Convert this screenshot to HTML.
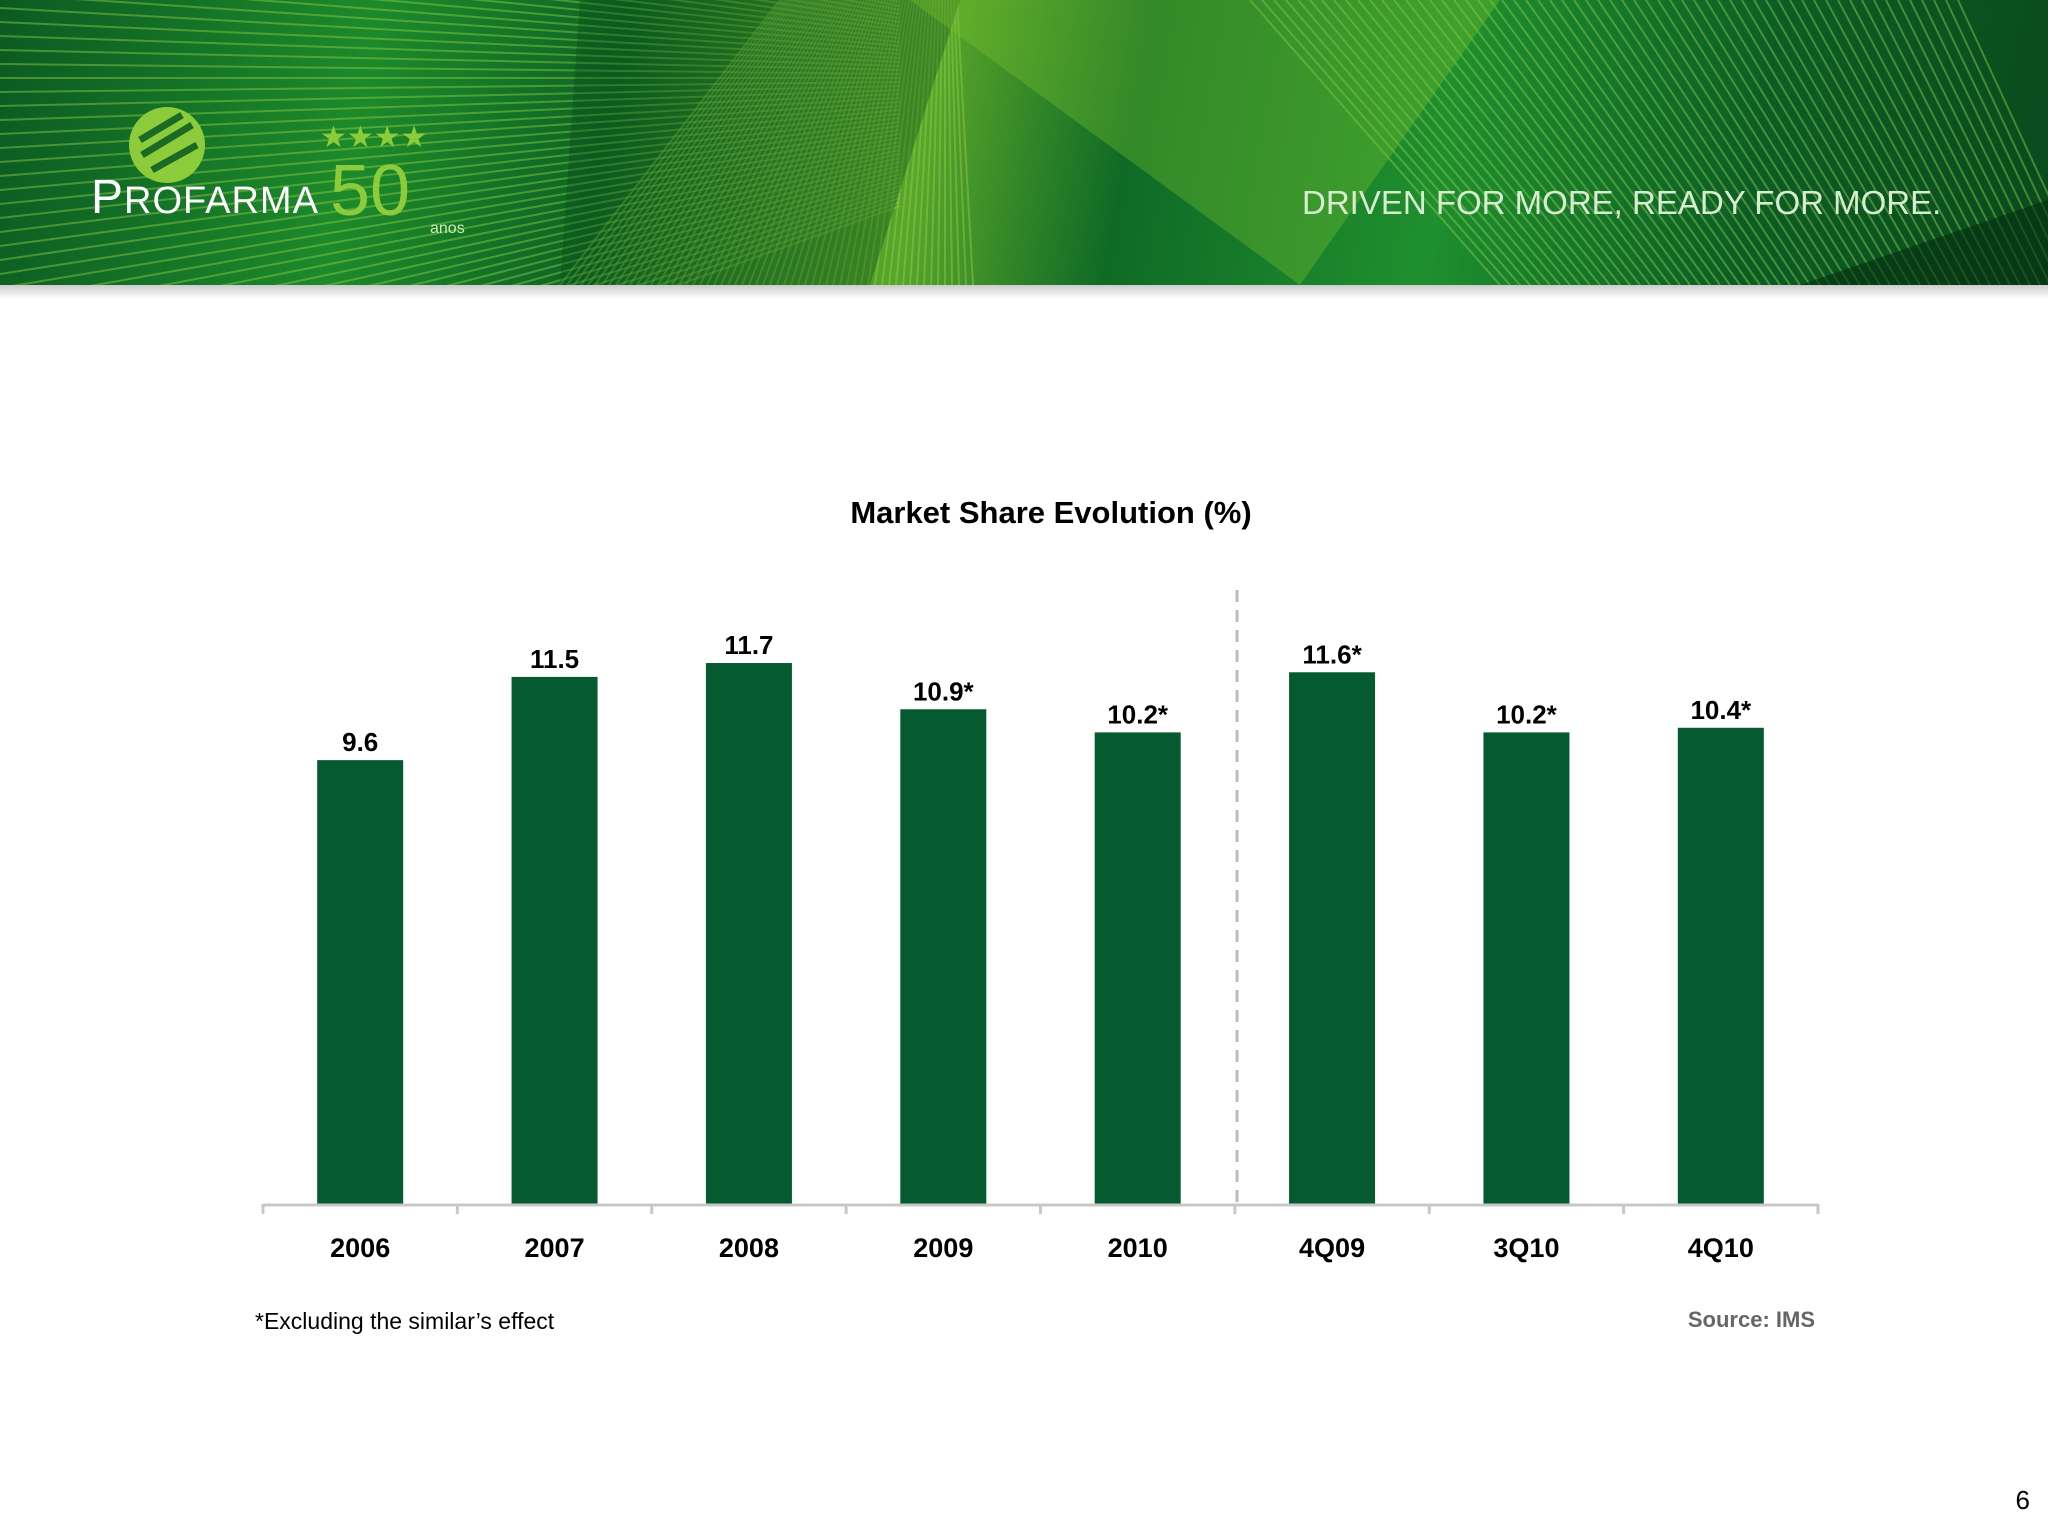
<!DOCTYPE html>
<html><head><meta charset="utf-8"><style>
html,body{margin:0;padding:0;width:2048px;height:1536px;background:#fff;overflow:hidden;font-family:"Liberation Sans",Arial,sans-serif}
#header{position:absolute;left:0;top:0;width:2048px;height:285px;overflow:hidden;background:linear-gradient(100deg,#0b5a22 0%,#1d8a2a 18%,#0e6424 30%,#5aa62a 45%,#0f6a26 55%,#1f8f2e 70%,#0c5d25 85%,#0a4a1c 100%)}
#shadow{position:absolute;left:0;top:285px;width:2048px;height:14px;background:linear-gradient(#ccc,#fff)}
</style></head><body>
<div id="header">
<svg width="2048" height="285" style="position:absolute;left:0;top:0">
<g stroke="#8fd04a" stroke-opacity="0.45" stroke-width="2" id="lines"></g>
<polygon points="580,0 960,0 870,285 560,285" fill="#064a18" opacity="0.35"/>
<polygon points="910,0 1500,0 1300,285" fill="#7cc22e" opacity="0.35"/>
<polygon points="1800,285 2048,200 2048,285" fill="#032d10" opacity="0.6"/>
</svg>
<svg width="90" height="90" style="position:absolute;left:122px;top:100px"><circle cx="45" cy="45" r="38" fill="#8ccc3a"/><path d="M20 55 L70 25 M18 40 L60 15 M30 70 L75 45" stroke="#1a6a26" stroke-width="7"/></svg>
<div style="position:absolute;left:91px;top:170px;color:#fff;font-size:48px;letter-spacing:1px">P<span style="font-size:38px">ROFARMA</span></div>
<div style="position:absolute;left:330px;top:150px;color:#8ccc3a;font-size:72px;font-weight:300">50</div>
<div style="position:absolute;left:320px;top:120px;color:#8ccc3a;font-size:30px">★★★★</div>
<div style="position:absolute;left:430px;top:220px;color:#cfe8b0;font-size:16px">anos</div>
<div style="position:absolute;left:1302px;top:184px;color:#d8ecd0;font-size:33px;letter-spacing:0px">DRIVEN FOR MORE, READY FOR MORE.</div>
</div>
<div id="shadow"></div>
<svg id="chart" width="2048" height="1536" style="position:absolute;left:0;top:0">
<text x="1051" y="523" text-anchor="middle" font-size="31" font-weight="bold" fill="#000">Market Share Evolution (%)</text>
<g id="bars"></g>
<line x1="1237" y1="590" x2="1237" y2="1204" stroke="#bbb" stroke-width="3" stroke-dasharray="12,8"/>
<line x1="263" y1="1205" x2="1818" y2="1205" stroke="#c8c8c8" stroke-width="3"/>
<g id="ticks"></g>
<text x="255" y="1329" font-size="23" fill="#000">*Excluding the similar’s effect</text>
<text x="1815" y="1327" text-anchor="end" font-size="22" font-weight="bold" fill="#666">Source: IMS</text>
<text x="2030" y="1509" text-anchor="end" font-size="26" fill="#000">6</text>
</svg>
<script>
const categories=["2006","2007","2008","2009","2010","4Q09","3Q10","4Q10"];
const values=[9.6,11.4,11.7,10.7,10.2,11.5,10.2,10.3];
const valueLabels=["9.6","11.5","11.7","10.9*","10.2*","11.6*","10.2*","10.4*"];
const NS="http://www.w3.org/2000/svg";
const x0=263,x1=1818,base=1204,pxPerUnit=35.4*2048/1568;
const step=(x1-x0)/categories.length,bw=86;
function xc(i){return x0+step*(i+0.5);}
function y(v){return base-v*pxPerUnit;}
const g=document.getElementById('bars');
categories.forEach((c,i)=>{
 const r=document.createElementNS(NS,'rect');
 r.setAttribute('x',xc(i)-bw/2);r.setAttribute('y',y(values[i]));
 r.setAttribute('width',bw);r.setAttribute('height',base-y(values[i]));
 r.setAttribute('fill','#065a30');
 
 
 g.appendChild(r);
 const t=document.createElementNS(NS,'text');
 t.setAttribute('x',xc(i));t.setAttribute('y',y(values[i])-9);
 t.setAttribute('text-anchor','middle');t.setAttribute('font-size','26');t.setAttribute('font-weight','bold');
 t.textContent=valueLabels[i];
 
 
 g.appendChild(t);
 const l=document.createElementNS(NS,'text');
 l.setAttribute('x',xc(i));l.setAttribute('y',1257);
 l.setAttribute('text-anchor','middle');l.setAttribute('font-size','27');l.setAttribute('font-weight','bold');
 l.textContent=c;
 
 
 g.appendChild(l);
});
const tg=document.getElementById('ticks');
for(let i=0;i<=categories.length;i++){
 const tk=document.createElementNS(NS,'line');
 const xx=x0+step*i;
 tk.setAttribute('x1',xx);tk.setAttribute('x2',xx);tk.setAttribute('y1',1204);tk.setAttribute('y2',1214);
 tk.setAttribute('stroke','#c8c8c8');tk.setAttribute('stroke-width','3');
 
 
 tg.appendChild(tk);
}
const lg=document.getElementById('lines');
for(let k=0;k<60;k++){
 const ln=document.createElementNS(NS,'line');
 ln.setAttribute('x1',0);ln.setAttribute('y1',k*14-300);
 ln.setAttribute('x2',900);ln.setAttribute('y2',k*4-30);
 lg.appendChild(ln);
 const ln2=document.createElementNS(NS,'line');
 ln2.setAttribute('x1',1250+k*12);ln2.setAttribute('y1',0);
 ln2.setAttribute('x2',1500+k*10);ln2.setAttribute('y2',285);
 lg.appendChild(ln2);
 const ln3=document.createElementNS(NS,'line');
 ln3.setAttribute('x1',560+k*7);ln3.setAttribute('y1',285);
 ln3.setAttribute('x2',780+k*3);ln3.setAttribute('y2',0);
 lg.appendChild(ln3);
}
</script>
</body></html>
